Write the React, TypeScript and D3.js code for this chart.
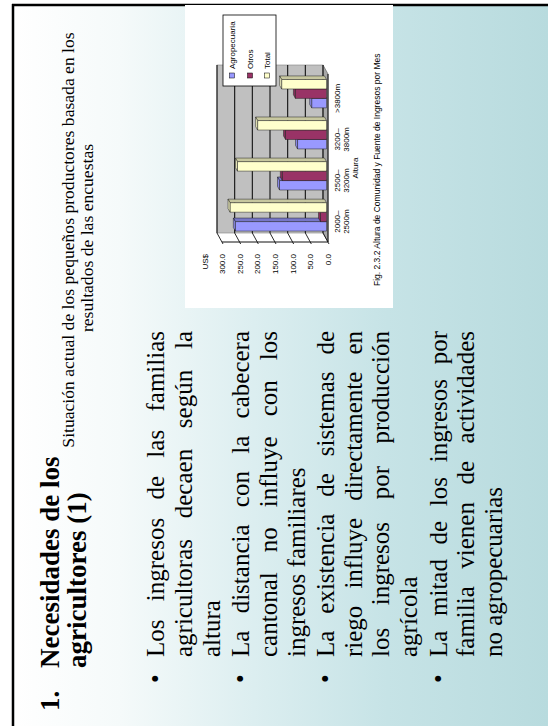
import React, { useMemo } from 'react';
import * as d3 from 'd3';

// ---------- data ----------
const categories = ['2000–2500m', '2500–3200m', '3200–3800m', '>3800m'];
const catLine1 = ['2000–', '2500–', '3200–', '>3800m'];
const catLine2 = ['2500m', '3200m', '3800m', ''];
const seriesNames = ['Agropecuaria', 'Otros', 'Total'];
const agropecuaria = [258, 133, 82, 42];
const otros = [17, 125, 116, 88];
const total = [273, 252, 195, 127];
const yTicks = [0, 50, 100, 150, 200, 250, 300];

const titleLines = ['Necesidades de los', 'agricultores (1)'];
const subtitleLines = ['Situación actual de los pequeños productores basada en los', 'resultados de las encuestas'];
const bullets = [
  ['Los ingresos de las familias', 'agricultoras decaen según la', 'altura'],
  ['La distancia con la cabecera', 'cantonal no influye con los', 'ingresos familiares'],
  ['La existencia de sistemas de', 'riego influye directamente en', 'los ingresos por producción', 'agrícola'],
  ['La mitad de los ingresos por', 'familia vienen de actividades', 'no agropecuarias'],
];
const caption = 'Fig. 2.3.2 Altura de Comunidad y Fuente de Ingresos por Mes';

// ---------- styles ----------
const seriesColors = ['#9999FF', '#993366', '#FFFFCC'];
const SERIF = '"Liberation Serif", "Times New Roman", serif';
const SANS = '"Liberation Sans", Arial, sans-serif';
const BODY_SIZE = 25;

let _ctx: CanvasRenderingContext2D | null = null;
function measure(s: string, font: string) {
  if (!_ctx) _ctx = document.createElement('canvas').getContext('2d');
  _ctx!.font = font;
  return _ctx!.measureText(s).width;
}

export default function App() {
  const series = [agropecuaria, otros, total];

  // chart geometry (slide frame, before rotation)
  const plotLeft = 484;
  const plotRight = 652;
  const DX = 9;
  const DY = -5;
  const y = d3.scaleLinear().domain([0, 300]).range([328, 222]);
  const x = d3.scaleBand().domain(categories).range([plotLeft, plotRight]).paddingInner(0.31).paddingOuter(0.2);
  const xs = d3.scaleBand().domain(seriesNames).range([0, x.bandwidth()]).padding(0);
  const bf0 = 0.3, bf1 = 0.7;
  const fmt = d3.format('.1f');

  const bodyFont = `${BODY_SIZE}px ${SERIF}`;
  const textLeft = 69;
  const textRight = 395;
  const lineStep = 27.8;
  const paraGap = 1.5;

  const bodyLines = useMemo(() => {
    const out: { words: { t: string; x: number }[]; y: number; bullet: boolean }[] = [];
    let yb = 164;
    bullets.forEach((para, pi) => {
      if (pi > 0) yb += paraGap;
      para.forEach((line, li) => {
        const last = li === para.length - 1;
        const words = line.split(' ');
        const placed: { t: string; x: number }[] = [];
        if (last || words.length === 1) {
          placed.push({ t: line, x: textLeft });
        } else {
          const widths = words.map((w) => measure(w, bodyFont));
          const sum = d3.sum(widths);
          const gap = (textRight - textLeft - sum) / (words.length - 1);
          let cx = textLeft;
          words.forEach((w, i) => {
            placed.push({ t: w, x: cx });
            cx += widths[i] + gap;
          });
        }
        out.push({ words: placed, y: yb, bullet: li === 0 });
        yb += lineStep;
      });
    });
    return out;
  }, []);

  const bars: JSX.Element[] = [];
  categories.forEach((c, ci) => {
    seriesNames.forEach((s, si) => {
      const v = series[si][ci];
      const x0 = (x(c) as number) + (xs(s) as number) + DX * bf0;
      const w = xs.bandwidth();
      const yTop = y(v) + DY * bf0;
      const yBot = y(0) + DY * bf0;
      const ddx = DX * (bf1 - bf0);
      const ddy = DY * (bf1 - bf0);
      const col = d3.color(seriesColors[si])!;
      const side = col.darker(0.7).formatHex();
      const top = col.darker(0.3).formatHex();
      bars.push(
        <g key={`${ci}-${si}`} stroke="#222" strokeWidth={0.5} strokeLinejoin="round">
          <path d={`M${x0 + w},${yTop} L${x0 + w + ddx},${yTop + ddy} L${x0 + w + ddx},${yBot + ddy} L${x0 + w},${yBot} Z`} fill={side} />
          <rect x={x0} y={yTop} width={w} height={yBot - yTop} fill={seriesColors[si]} />
          <path d={`M${x0},${yTop} L${x0 + ddx},${yTop + ddy} L${x0 + w + ddx},${yTop + ddy} L${x0 + w},${yTop} Z`} fill={top} />
        </g>
      );
    });
  });

  return (
    <svg width={548} height={726} style={{ position: 'absolute', left: 0, top: 0, display: 'block' }}>
      <defs>
        <linearGradient id="bg" x1="0" y1="0" x2="0" y2="1">
          <stop offset="0" stopColor="#ffffff" />
          <stop offset="0.2" stopColor="#f5fafa" />
          <stop offset="0.45" stopColor="#dceef0" />
          <stop offset="0.7" stopColor="#c6e3e6" />
          <stop offset="1" stopColor="#b8dbde" />
        </linearGradient>
      </defs>
      <rect width={548} height={726} fill="#ffffff" />
      <g transform="translate(0,726) rotate(-90)">
        {/* slide background */}
        <rect x={0} y={13} width={721} height={535} fill="url(#bg)" />
        <line x1={0} y1={13} x2={722} y2={13} stroke="#000" strokeWidth={2.5} />
        <line x1={721} y1={12} x2={721} y2={548} stroke="#000" strokeWidth={2.5} />

        {/* title */}
        <g fontFamily={SERIF} fontWeight="bold" fontSize={27} fill="#000">
          <text x={15} y={59}>1.</text>
          <text x={58} y={59}>{titleLines[0]}</text>
          <text x={58} y={86}>{titleLines[1]}</text>
        </g>

        {/* subtitle */}
        <g fontFamily={SERIF} fontSize={17.6} fill="#000" textAnchor="middle">
          <text x={486} y={74}>{subtitleLines[0]}</text>
          <text x={488} y={93}>{subtitleLines[1]}</text>
        </g>

        {/* bullets */}
        <g fontFamily={SERIF} fontSize={BODY_SIZE} fill="#000">
          {bodyLines.map((ln, i) => (
            <g key={i}>
              {ln.bullet && <text x={43} y={ln.y}>•</text>}
              {ln.words.map((w, j) => (
                <text key={j} x={w.x} y={ln.y}>{w.t}</text>
              ))}
            </g>
          ))}
        </g>

        {/* chart box */}
        <rect x={418} y={185} width={303} height={208} fill="#ffffff" />

        {/* walls */}
        <rect x={plotLeft + DX} y={y(300) + DY} width={plotRight - plotLeft} height={y(0) - y(300)} fill="#c0c0c0" stroke="#808080" strokeWidth={0.6} />
        <path d={`M${plotLeft},${y(0)} L${plotRight},${y(0)} L${plotRight + DX},${y(0) + DY} L${plotLeft + DX},${y(0) + DY} Z`} fill="#a8a8a8" stroke="#555" strokeWidth={0.6} />
        {yTicks.map((t) => (
          <g key={t}>
            <line x1={plotLeft + DX} x2={plotRight + DX} y1={y(t) + DY} y2={y(t) + DY} stroke="#111" strokeWidth={1.1} />
            <line x1={plotLeft - 2} x2={plotLeft + DX} y1={y(t) + 1} y2={y(t) + DY} stroke="#111" strokeWidth={0.9} />
            <text x={472} y={y(t) + 3} fontFamily={SANS} fontSize={8} textAnchor="end">{fmt(t)}</text>
          </g>
        ))}
        <line x1={plotLeft} x2={plotLeft} y1={y(0)} y2={y(300)} stroke="#111" strokeWidth={1} />
        <line x1={plotLeft} x2={plotRight} y1={y(0)} y2={y(0)} stroke="#111" strokeWidth={1} />
        <text x={472} y={208} fontFamily={SANS} fontSize={8} textAnchor="end">US$</text>

        {bars}

        {/* category labels */}
        <g fontFamily={SANS} fontSize={8} textAnchor="middle">
          {categories.map((c, i) => (
            <g key={c}>
              <text x={(x(c) as number) + x.bandwidth() / 2 - 2} y={340}>{catLine1[i]}</text>
              {catLine2[i] && <text x={(x(c) as number) + x.bandwidth() / 2 - 2} y={349}>{catLine2[i]}</text>}
            </g>
          ))}
          <text x={558} y={358}>Altura</text>
        </g>

        {/* legend */}
        <rect x={640} y={223} width={71} height={53} fill="#fff" stroke="#000" strokeWidth={0.8} />
        {seriesNames.map((s, i) => {
          const cy = [232, 250, 267][i];
          return (
            <g key={s}>
              <rect x={648} y={cy - 2.5} width={5} height={5} fill={seriesColors[i]} stroke="#000" strokeWidth={0.5} />
              <text x={657} y={cy + 3} fontFamily={SANS} fontSize={8}>{s}</text>
            </g>
          );
        })}

        {/* caption */}
        <text x={440} y={380} fontFamily={SANS} fontSize={8.5}>{caption}</text>
      </g>
    </svg>
  );
}
